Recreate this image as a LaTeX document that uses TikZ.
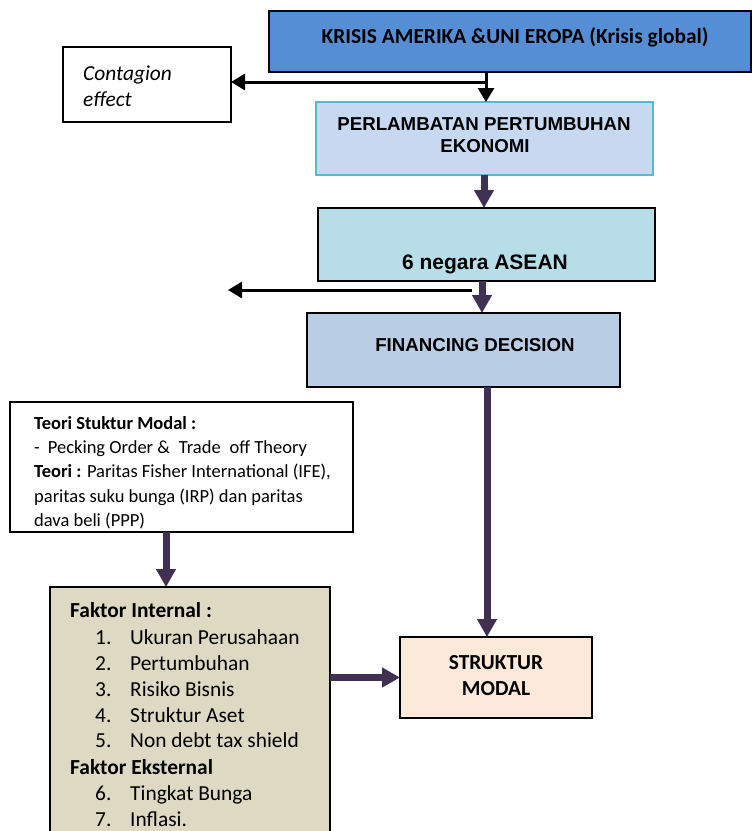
\documentclass[tikz,border=0pt]{standalone}
\usepackage{fontspec}
\setmainfont{Carlito}
\newfontfamily\arialf{Liberation Sans}
\usetikzlibrary{arrows.meta}
\definecolor{krisisblue}{HTML}{558ED5}
\definecolor{perlfill}{HTML}{C6D9F1}
\definecolor{perlborder}{HTML}{5BB7CF}
\definecolor{aseanfill}{HTML}{B7DEE8}
\definecolor{finfill}{HTML}{B9CDE5}
\definecolor{faktorfill}{HTML}{DDD9C3}
\definecolor{struktfill}{HTML}{FCE9DA}
\definecolor{arrowpurple}{HTML}{403152}
\begin{document}
\begin{tikzpicture}[x=1pt,y=-1pt,
  box/.style={draw=black,line width=1.6pt,inner sep=0pt,outer sep=0pt,anchor=north west},
  txt/.style={inner sep=0pt,anchor=base},
  txtw/.style={inner sep=0pt,anchor=base west},
  blkarrow/.style={line width=3pt,-{Triangle[width=16pt,length=14pt]}},
  purarrow/.style={draw=arrowpurple,line width=7pt,-{Triangle[width=19pt,length=18pt]}},
  arialbig/.style={font=\arialf\bfseries\fontsize{18.7}{22}\selectfont},
  calbody/.style={font=\fontsize{21.4}{25}\selectfont},
  calbold/.style={font=\bfseries\fontsize{21.4}{25}\selectfont},
  calital/.style={font=\itshape\fontsize{21.4}{25}\selectfont},
  teoritext/.style={font=\fontsize{18.5}{22}\selectfont}]
\useasboundingbox (0,0) rectangle (752,831);
\clip (0,0) rectangle (752,831);

% boxes
\node[box,fill=krisisblue,minimum width=482pt,minimum height=61pt] (krisis) at (269,11) {};
\node[txt,font=\bfseries\fontsize{21.4}{25}\selectfont] (krisist) at (515,43) {KRISIS AMERIKA \&UNI EROPA (Krisis global)};

\node[box,fill=white,minimum width=168pt,minimum height=75pt] (cont) at (63,47) {};
\node[txtw,calital] (contt1) at (83,80) {Contagion};
\node[txtw,calital] (contt2) at (83,106) {effect};

\node[box,fill=perlfill,draw=perlborder,minimum width=337pt,minimum height=73pt] (perl) at (316,102) {};
\node[txt,arialbig] (perlt1) at (484,130) {PERLAMBATAN PERTUMBUHAN};
\node[txt,arialbig] (perlt2) at (485,152) {EKONOMI};

\node[box,fill=aseanfill,minimum width=337pt,minimum height=73pt] (asean) at (318,208) {};
\node[txt,font=\arialf\bfseries\fontsize{21}{25}\selectfont] (aseant) at (485,269) {6 negara ASEAN};

\node[box,fill=finfill,minimum width=313pt,minimum height=74pt] (fin) at (307,313) {};
\node[txt,arialbig] (fint) at (475,351) {FINANCING DECISION};

\node[box,fill=white,minimum width=343pt,minimum height=130pt] (teori) at (10,402) {};
\begin{scope}
\clip (10,402) rectangle (353,531);
\node[txtw,teoritext] (teori1) at (34,429) {\textbf{Teori Stuktur Modal :}};
\node[txtw,teoritext] (teori2) at (34,453) {-\hspace{8pt}Pecking Order \&\hspace{9pt}Trade\hspace{9pt}off Theory};
\node[txtw,teoritext] (teori3) at (34,477) {\textbf{Teori :} Paritas Fisher International (IFE),};
\node[txtw,teoritext] (teori4) at (34,502) {paritas suku bunga (IRP) dan paritas};
\node[txtw,teoritext] (teori5) at (34,526) {dava beli (PPP)};
\end{scope}

\node[box,fill=faktorfill,minimum width=280pt,minimum height=270pt] (faktor) at (50,587) {};
\node[txtw,calbold] (fi) at (70,617) {Faktor Internal :};
\foreach \n/\t/\yy in {1/Ukuran Perusahaan/644,2/Pertumbuhan/670,3/Risiko Bisnis/696,4/Struktur Aset/722,5/Non debt tax shield/747,6/Tingkat Bunga/800,7/Inflasi./826}{
  \node[txtw,calbody] (num\n) at (95,\yy) {\n.};
  \node[txtw,calbody] (item\n) at (130,\yy) {\t};
}
\node[txtw,calbold] (fe) at (70,774) {Faktor Eksternal};

\node[box,fill=struktfill,minimum width=192pt,minimum height=81pt] (strukt) at (400,637) {};
\node[txt,calbold] (strukt1) at (496,669) {STRUKTUR};
\node[txt,calbold] (strukt2) at (496,695) {MODAL};

% guide coordinates
\coordinate (j1) at (486,82);
\coordinate (xa) at (484,0);
\coordinate (xb) at (482,0);
\coordinate (xc) at (487,0);
\coordinate (xd) at (166,0);
\coordinate (j2) at (472,290);
\coordinate (e2) at (228,290);

% connectors
\draw[line width=3pt] (krisis.south -| j1) -- (j1);
\draw[blkarrow] (j1) -- (perl.north -| j1);
\draw[blkarrow] (j1) -- (cont.east |- j1);
\draw[purarrow] (perl.south -| xa) -- (asean.north -| xa);
\draw[purarrow] (asean.south -| xb) -- (fin.north -| xb);
\draw[blkarrow] (j2) -- (e2);
\draw[purarrow] (fin.south -| xc) -- (strukt.north -| xc);
\draw[purarrow] (teori.south -| xd) -- (faktor.north -| xd);
\draw[purarrow] (faktor.east |- strukt.west) -- (strukt.west);
\end{tikzpicture}
\end{document}
